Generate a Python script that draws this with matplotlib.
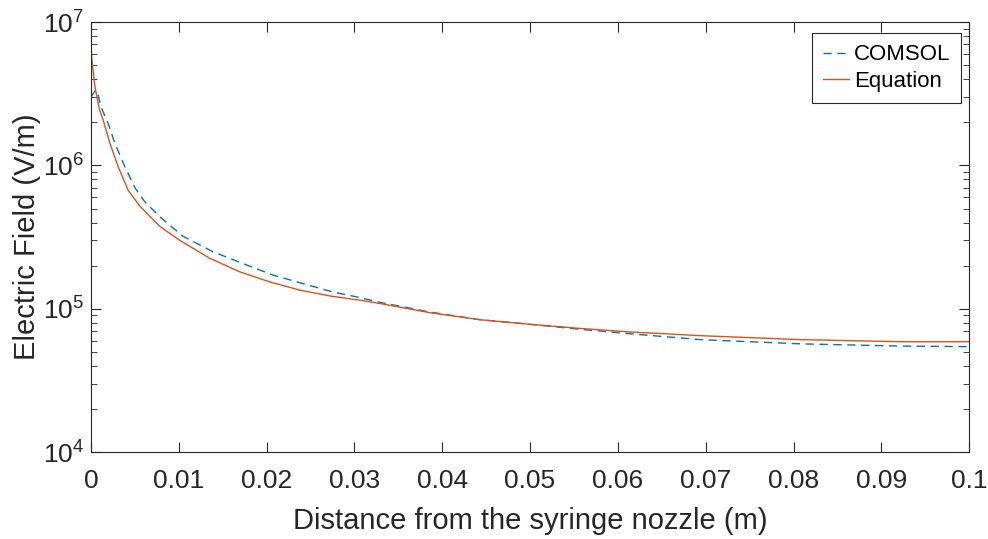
import math

import matplotlib
matplotlib.use("Agg")
import matplotlib.pyplot as plt
from matplotlib.ticker import LogLocator, FixedLocator, FuncFormatter, NullFormatter

plt.rcParams["font.family"] = ["Liberation Sans", "DejaVu Sans"]
plt.rcParams["mathtext.fontset"] = "custom"
plt.rcParams["mathtext.rm"] = "Liberation Sans"
plt.rcParams["mathtext.it"] = "Liberation Sans"

# COMSOL simulation
x_comsol = [0, 0.00054, 0.00083, 0.00114, 0.00197, 0.00273, 0.00387, 0.00501,
            0.00615, 0.00786, 0.01048, 0.0139, 0.01731, 0.02073, 0.02415,
            0.02756, 0.0303, 0.0329, 0.0386, 0.0443, 0.050, 0.0557, 0.0614,
            0.0694, 0.0808, 0.0921, 0.1]
e_comsol = [3.0e6, 3.36e6, 3.1e6, 2.57e6, 1.96e6, 1.43e6, 9.8e5, 7.0e5,
            5.57e5, 4.38e5, 3.21e5, 2.50e5, 2.07e5, 1.72e5, 1.50e5,
            1.31e5, 1.21e5, 1.11e5, 9.5e4, 8.4e4, 7.8e4, 7.2e4, 6.7e4,
            6.1e4, 5.7e4, 5.5e4, 5.45e4]

# analytical equation
x_eq = [0, 0.00008, 0.00046, 0.00083, 0.001, 0.0014, 0.00216, 0.00311, 0.00425,
        0.00558, 0.00786, 0.0101, 0.01355, 0.01697, 0.02039, 0.0238, 0.0272,
        0.0306, 0.0329, 0.0386, 0.0443, 0.050, 0.0557, 0.0614, 0.0694,
        0.0808, 0.0921, 0.1]
e_eq = [8.8e6, 5.7e6, 3.54e6, 2.71e6, 2.43e6, 2.07e6, 1.43e6, 9.8e5, 6.7e5,
        5.2e5, 3.75e5, 3.01e5, 2.25e5, 1.81e5, 1.54e5, 1.35e5, 1.23e5,
        1.15e5, 1.09e5, 9.4e4, 8.4e4, 7.8e4, 7.3e4, 6.9e4, 6.5e4,
        6.1e4, 5.9e4, 5.9e4]

x_ticks = [0, 0.01, 0.02, 0.03, 0.04, 0.05, 0.06, 0.07, 0.08, 0.09, 0.1]
x_tick_labels = ["0", "0.01", "0.02", "0.03", "0.04", "0.05", "0.06",
                 "0.07", "0.08", "0.09", "0.1"]

fig = plt.figure(figsize=(9.88, 5.39), dpi=100)
ax = fig.add_axes([0.092, 0.161, 0.889, 0.798])

ax.plot(x_comsol, e_comsol, "--", color="#0072BD", linewidth=1.0,
        dashes=(6, 4), label="COMSOL")
ax.plot(x_eq, e_eq, "-", color="#D95319", linewidth=1.0, label="Equation")

ax.set_yscale("log")
ax.set_xlim(0, 0.1)
ax.set_ylim(1e4, 1e7)

ax.xaxis.set_major_locator(FixedLocator(x_ticks))
ax.set_xticklabels(x_tick_labels)
ax.yaxis.set_major_locator(LogLocator(base=10, numticks=10))
ax.yaxis.set_minor_locator(LogLocator(base=10, subs=range(2, 10), numticks=10))
ax.yaxis.set_minor_formatter(NullFormatter())
ax.yaxis.set_major_formatter(FuncFormatter(
    lambda v, _: r"$\mathregular{10^{%d}}$" % round(math.log10(v))))

ax.tick_params(which="both", direction="in", top=True, right=True,
               colors="#262626", labelcolor="#262626")
ax.tick_params(which="major", length=7, width=0.8, labelsize=19)
ax.tick_params(axis="x", which="major", pad=12)
ax.tick_params(axis="y", which="major", pad=5)
ax.tick_params(which="minor", length=4, width=0.6)
for s in ax.spines.values():
    s.set_color("#262626")
    s.set_linewidth(0.8)

ax.set_xlabel("Distance from the syringe nozzle (m)", fontsize=21,
              color="#262626", labelpad=10)
ax.set_ylabel("Electric Field (V/m)", fontsize=21, color="#262626", labelpad=1)

leg = ax.legend(loc="upper right", bbox_to_anchor=(0.991, 0.974),
                borderaxespad=0, fontsize=16, handlelength=1.2,
                handletextpad=0.2, borderpad=0.5, labelspacing=0.25,
                fancybox=False, framealpha=1)
leg.get_frame().set_edgecolor("#262626")
leg.get_frame().set_linewidth(0.8)

fig.savefig("out.png", dpi=100)
